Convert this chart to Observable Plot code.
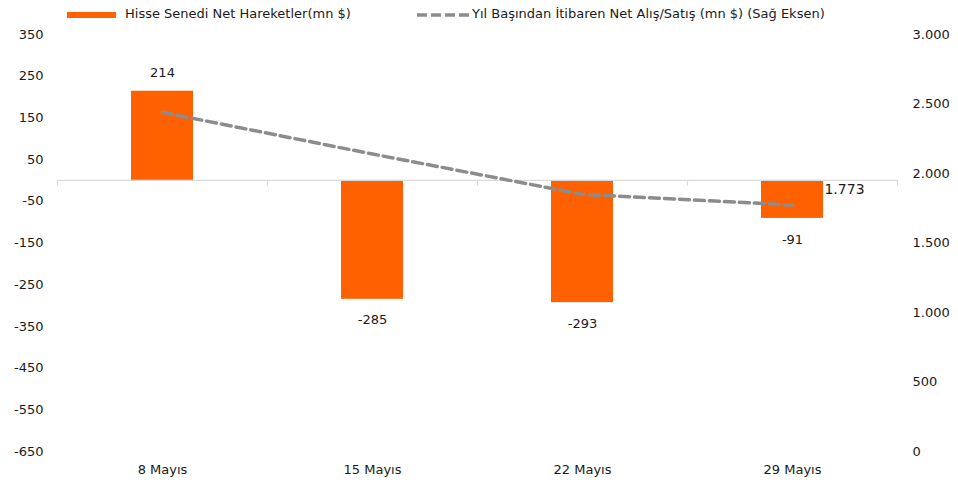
<!DOCTYPE html>
<html><head><meta charset="utf-8">
<script src="https://cdn.jsdelivr.net/npm/d3@7"></script>
<script src="https://cdn.jsdelivr.net/npm/@observablehq/plot@0.6"></script>
<style>
body{margin:0;background:#fff;font-family:"DejaVu Sans",sans-serif;color:#1a1a1a;}
#legend{position:relative;height:26px;width:958px;font-size:13px;}
#legend .sw{position:absolute;}
#legend .lbl{position:absolute;top:6px;white-space:nowrap;}
</style></head><body>
<div id="legend">
  <div class="sw" style="left:67px;top:12px;width:49px;height:6px;background:#FF6000"></div>
  <div class="lbl" style="left:125px">Hisse Senedi Net Hareketler(mn $)</div>
  <svg class="sw" style="left:417px;top:10px" width="52" height="10"><line x1="0" y1="5" x2="52" y2="5" stroke="#8c8c8c" stroke-width="3.5" stroke-dasharray="10,4"/></svg>
  <div class="lbl" style="left:472px">Yıl Başından İtibaren Net Alış/Satış (mn $) (Sağ Eksen)</div>
</div>
<div id="chart"></div>
<script>
const categories = ["8 Mayıs", "15 Mayıs", "22 Mayıs", "29 Mayıs"];
const netFlows = [214, -285, -293, -91];
const ytdNet = [2440, 2140, 1850, 1773];
const leftTicks = [350, 250, 150, 50, -50, -150, -250, -350, -450, -550, -650];
const rightTicks = [0, 500, 1000, 1500, 2000, 2500, 3000];
const leftDomain = [-650, 350];
const rightDomain = [0, 3000];

const toLeft = v => leftDomain[0] + (v - rightDomain[0]) * (leftDomain[1] - leftDomain[0]) / (rightDomain[1] - rightDomain[0]);
const trLocale = d3.formatLocale({decimal: ",", thousands: ".", grouping: [3], currency: ["", ""], minus: "-"});
const fmt = trLocale.format(",d");

const rows = categories.map((c, i) => ({cat: c, flow: netFlows[i], ytd: ytdNet[i], ytdL: toLeft(ytdNet[i])}));
const last = rows[rows.length - 1];

const W = 958, H = 462;
const chart = Plot.plot({
  width: W, height: H,
  marginLeft: 57, marginRight: 61, marginTop: 8, marginBottom: 37,
  style: {fontFamily: "DejaVu Sans, sans-serif", fontSize: "13px", color: "#1a1a1a", background: "#fff"},
  x: {domain: categories, paddingInner: 0.705, paddingOuter: 0.3525, axis: null, label: null},
  y: {domain: leftDomain, axis: null, label: null},
  marks: [
    Plot.barY(rows, {x: "cat", y: "flow", fill: "#FF6000"}),
    Plot.ruleY([0], {stroke: "#d9d9d9", strokeWidth: 1.2}),
    Plot.ruleX(categories, {x: d => d, y1: 0, y2: -14, dx: -105, stroke: "#d9d9d9", strokeWidth: 1.2}),
    Plot.ruleX(categories.slice(-1), {x: d => d, y1: 0, y2: -14, dx: 105, stroke: "#d9d9d9", strokeWidth: 1.2}),
    Plot.lineY(rows, {x: "cat", y: "ytdL", stroke: "#8c8c8c", strokeWidth: 3.5, strokeDasharray: "10,5"}),
    Plot.text(rows.filter(d => d.flow >= 0), {x: "cat", y: "flow", text: d => fmt(d.flow), dy: -18, fill: "#1a1a1a"}),
    Plot.text(rows.filter(d => d.flow < 0), {x: "cat", y: "flow", text: d => fmt(d.flow), dy: 21, fill: "#1a1a1a"}),
    Plot.text([last], {x: "cat", y: "ytdL", text: d => fmt(d.ytd), dx: 52, dy: -16, fill: "#1a1a1a", fontSize: 14}),
    Plot.axisY(leftTicks, {anchor: "left", tickSize: 0, tickPadding: 14, tickFormat: d => String(d), fill: "#1a1a1a", label: null}),
    Plot.axisY(rightTicks.map(toLeft), {anchor: "right", tickSize: 0, tickPadding: 15, tickFormat: (d, i) => fmt(rightTicks[i]), fill: "#1a1a1a", textAnchor: "start", label: null}),
    Plot.axisX(categories, {anchor: "bottom", tickSize: 0, tickPadding: 13, fill: "#1a1a1a", label: null})
  ]
});
document.getElementById("chart").appendChild(chart);
</script>
</body></html>
